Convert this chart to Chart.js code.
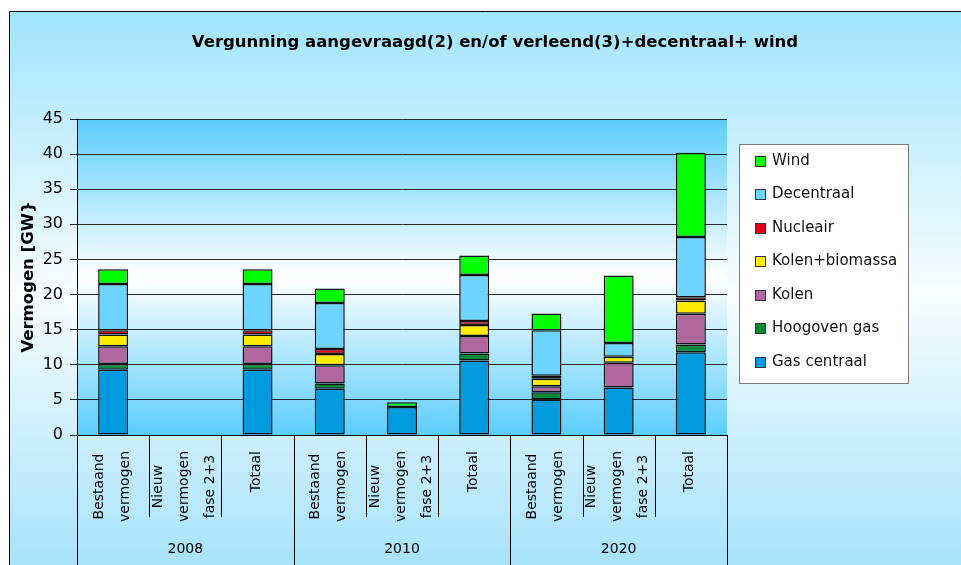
<!DOCTYPE html>
<html>
<head>
<meta charset="utf-8">
<title>Vergunning aangevraagd en/of verleend</title>
<script src="https://cdn.jsdelivr.net/npm/chart.js"></script>
<style>
  body { margin: 0; background: #fff; }
  canvas { display: block; }
</style>
</head>
<body>
<canvas id="chart" width="961" height="565"></canvas>
<script>
// data
const years = ['2008', '2010', '2020'];
const categories = [
  ['Bestaand', 'vermogen'], ['Nieuw', 'vermogen', 'fase 2+3'], ['Totaal'],
  ['Bestaand', 'vermogen'], ['Nieuw', 'vermogen', 'fase 2+3'], ['Totaal'],
  ['Bestaand', 'vermogen'], ['Nieuw', 'vermogen', 'fase 2+3'], ['Totaal']
];
const gasCentraal   = [9.3, 0, 9.3, 6.6, 4.0, 10.6, 5.05, 6.75, 11.8];
const hoogovenGas   = [0.8, 0, 0.8, 0.75, 0, 1.0, 1.05, 0, 1.1];
const kolen         = [2.55, 0, 2.55, 2.6, 0, 2.5, 0.85, 3.55, 4.35];
const kolenBiomassa = [1.65, 0, 1.65, 1.6, 0, 1.55, 1.05, 0.85, 1.9];
const nucleair      = [0.6, 0, 0.6, 0.7, 0, 0.6, 0.45, 0, 0.45];
const decentraal    = [6.6, 0, 6.6, 6.55, 0, 6.55, 6.45, 1.95, 8.6];
const wind          = [2.1, 0, 2.1, 2.05, 0.65, 2.75, 2.4, 9.6, 12.0];
const yTicks = [0, 5, 10, 15, 20, 25, 30, 35, 40, 45];

const chartTitle = 'Vergunning aangevraagd(2) en/of verleend(3)+decentraal+ wind';
const yTitle = 'Vermogen [GW}';
const font = 'DejaVu Sans';

const series = [
  { label: 'Gas centraal', data: gasCentraal, color: '#009BDE' },
  { label: 'Hoogoven gas', data: hoogovenGas, color: '#008A38' },
  { label: 'Kolen', data: kolen, color: '#B0679E' },
  { label: 'Kolen+biomassa', data: kolenBiomassa, color: '#FFEB00' },
  { label: 'Nucleair', data: nucleair, color: '#E3001B' },
  { label: 'Decentraal', data: decentraal, color: '#6DD3FF' },
  { label: 'Wind', data: wind, color: '#00FF00' }
];

// backgrounds, title, two-level x axis and legend box
const decor = {
  id: 'decor',
  beforeDraw(chart) {
    const { ctx, chartArea: a, width, height } = chart;
    ctx.save();
    ctx.fillStyle = '#fff';
    ctx.fillRect(0, 0, width, height);
    let g = ctx.createLinearGradient(0, 11, 0, 575);
    g.addColorStop(0, '#a0e4fc');
    g.addColorStop(0.5, '#f8fdff');
    g.addColorStop(1, '#a4e2fa');
    ctx.fillStyle = g;
    ctx.fillRect(9, 11, width - 9, height - 11);
    ctx.strokeStyle = '#000';
    ctx.lineWidth = 1;
    ctx.beginPath();
    ctx.moveTo(9.5, height);
    ctx.lineTo(9.5, 11.5);
    ctx.lineTo(width, 11.5);
    ctx.stroke();

    g = ctx.createLinearGradient(0, a.top, 0, a.bottom);
    g.addColorStop(0, '#5ccdfc');
    g.addColorStop(0.5, '#ffffff');
    g.addColorStop(1, '#5ccdfc');
    ctx.fillStyle = g;
    ctx.fillRect(a.left, a.top, a.right - a.left, a.bottom - a.top);
    ctx.restore();
  },
  afterDraw(chart) {
    const { ctx, chartArea: a, height } = chart;
    const xs = chart.scales.x;
    ctx.save();
    ctx.fillStyle = '#000';

    // title
    ctx.font = 'bold 16.5px "' + font + '"';
    ctx.textAlign = 'center';
    ctx.textBaseline = 'middle';
    ctx.fillText(chartTitle, 495, 43);

    // category separators
    const n = categories.length;
    const bounds = [];
    for (let k = 0; k <= n; k++) {
      if (k === 0) bounds.push(a.left);
      else if (k === n) bounds.push(a.right);
      else bounds.push((xs.getPixelForValue(k - 1) + xs.getPixelForValue(k)) / 2);
    }
    ctx.strokeStyle = '#000';
    ctx.lineWidth = 1;
    ctx.beginPath();
    bounds.forEach((b, k) => {
      const x = Math.round(b) + 0.5;
      ctx.moveTo(x, a.bottom);
      ctx.lineTo(x, k % 3 === 0 ? height : a.bottom + 82);
    });
    ctx.stroke();

    // category labels, rotated
    ctx.font = '14px "' + font + '"';
    categories.forEach((lines, i) => {
      const x = xs.getPixelForValue(i);
      const w = Math.max(...lines.map(l => ctx.measureText(l).width));
      const cy = a.bottom + 16 + w / 2;
      lines.forEach((l, j) => {
        ctx.save();
        ctx.translate(x + 2.5 + (j - (lines.length - 1) / 2) * 26, cy);
        ctx.rotate(-Math.PI / 2);
        ctx.textAlign = 'center';
        ctx.textBaseline = 'alphabetic';
        ctx.fillText(l, 0, 0);
        ctx.restore();
      });
    });

    // year labels
    ctx.textAlign = 'center';
    ctx.textBaseline = 'middle';
    years.forEach((y, g) => {
      ctx.fillText(y, (bounds[g * 3] + bounds[g * 3 + 3]) / 2, 549);
    });

    // legend
    ctx.fillStyle = '#fff';
    ctx.fillRect(739, 144, 169, 239);
    ctx.strokeStyle = '#7a7a7a';
    ctx.strokeRect(739.5, 144.5, 169, 239);
    ctx.font = '15px "' + font + '"';
    ctx.textAlign = 'left';
    const items = chart.data.datasets.slice().reverse();
    items.forEach((ds, i) => {
      const y = 161 + i * 33.5;
      ctx.fillStyle = ds.backgroundColor;
      ctx.fillRect(755, Math.round(y - 5.5), 11, 11);
      ctx.strokeStyle = '#333';
      ctx.strokeRect(755.5, Math.round(y - 5.5) + 0.5, 10, 10);
      ctx.fillStyle = '#111';
      ctx.fillText(ds.label, 772, y);
    });
    ctx.restore();
  }
};

new Chart(document.getElementById('chart'), {
  type: 'bar',
  data: {
    labels: categories,
    datasets: series.map(s => ({
      label: s.label,
      data: s.data.map(v => (v === 0 ? null : v)),
      backgroundColor: s.color,
      borderColor: '#111',
      borderWidth: 1.5,
      borderSkipped: false,
      inflateAmount: 0,
      barPercentage: 0.415,
      categoryPercentage: 1
    }))
  },
  options: {
    responsive: false,
    animation: false,
    layout: { padding: { top: 119, right: 234, bottom: 0, left: 0 } },
    plugins: {
      legend: { display: false },
      title: { display: false },
      tooltip: { enabled: false }
    },
    scales: {
      x: {
        stacked: true,
        ticks: { display: false },
        grid: { display: false },
        border: { display: true, color: '#000', width: 1 },
        afterFit(s) { s.height = 130; }
      },
      y: {
        stacked: true,
        min: 0,
        max: 45,
        afterBuildTicks(s) { s.ticks = yTicks.map(v => ({ value: v })); },
        ticks: { color: '#000', padding: 7, font: { family: font, size: 16 } },
        grid: { color: '#2a2a2a', tickLength: 7, drawTicks: true },
        border: { display: true, color: '#000', width: 1 },
        title: {
          display: true,
          text: yTitle,
          color: '#000',
          font: { family: font, size: 16.5, weight: 'bold' },
          padding: { top: 19, bottom: 0 }
        },
        afterFit(s) { s.width = 77; }
      }
    }
  },
  plugins: [decor]
});
</script>
</body>
</html>
